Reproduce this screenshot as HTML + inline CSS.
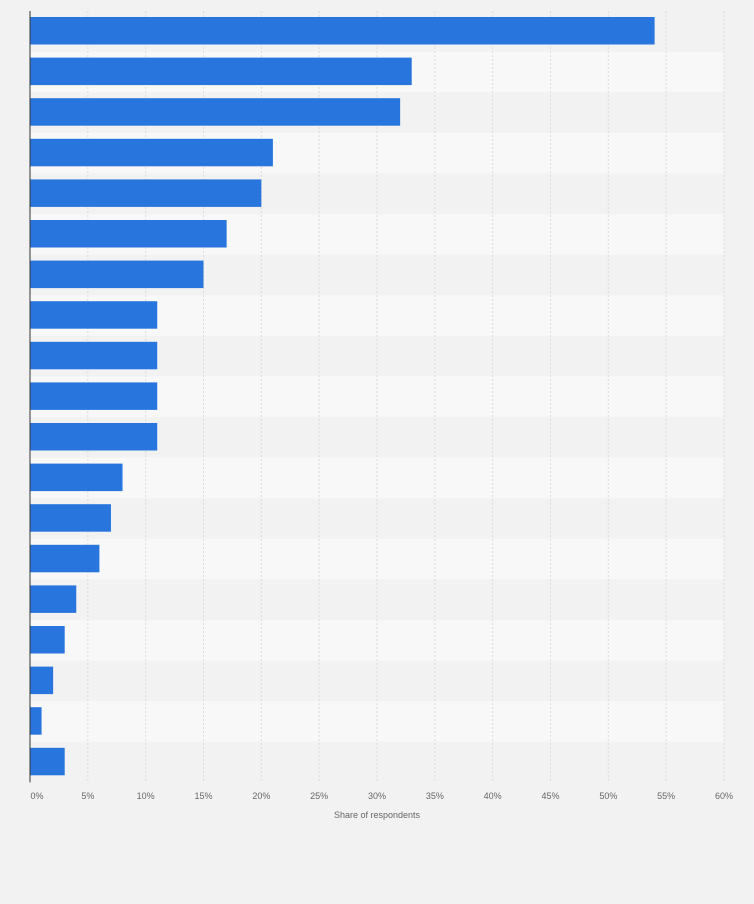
<!DOCTYPE html>
<html><head><meta charset="utf-8"><style>
body{margin:0;background:#f2f2f2;font-family:"Liberation Sans",sans-serif}
</style></head><body>
<svg id="c" width="754" height="899" xmlns="http://www.w3.org/2000/svg"></svg>
<script>
const categories=["A","B","C","D","E","F","G","H","I","J","K","L","M","N","O","P","Q","R","S"];
const values=[54,33,32,21,20,17,15,11,11,11,11,8,7,6,4,3,2,1,3];
const ticks=[0,5,10,15,20,25,30,35,40,45,50,55,60];
const svg=document.getElementById('c');
const NS='http://www.w3.org/2000/svg';
const x0=30,x1=724,plotTop=11,rowH=40.6;
const xs=v=>x0+(x1-x0)*v/60;
function mk(t,a,p){const e=document.createElementNS(NS,t);for(const k in a)e.setAttribute(k,a[k]);(p||svg).appendChild(e);return e;}
categories.forEach((c,i)=>{if(i%2==1){const r=mk('rect',{x:x0,y:plotTop+i*rowH,width:x1-x0,height:rowH,fill:'#f8f8f8'});

}});
ticks.forEach(t=>{if(t>0){const l=mk('line',{x1:xs(t),x2:xs(t),y1:plotTop,y2:plotTop+categories.length*rowH,stroke:'#dcdcdc','stroke-dasharray':'2,2'});

}
const tx=mk('text',{x:xs(t)+(t==0?7:0),y:799,'font-size':9,fill:'#666','text-anchor':'middle'});tx.textContent=t+'%';

});
values.forEach((v,i)=>{const b=mk('rect',{x:x0,y:plotTop+i*rowH+6,width:xs(v)-x0,height:27.5,fill:'#2876dd'});

});
const ax=mk('line',{x1:x0,x2:x0,y1:plotTop,y2:plotTop+categories.length*rowH,stroke:'#333','stroke-width':1});


const tt=mk('text',{x:377,y:818,'font-size':9,fill:'#666','text-anchor':'middle'});tt.textContent='Share of respondents';


</script>
</body></html>
